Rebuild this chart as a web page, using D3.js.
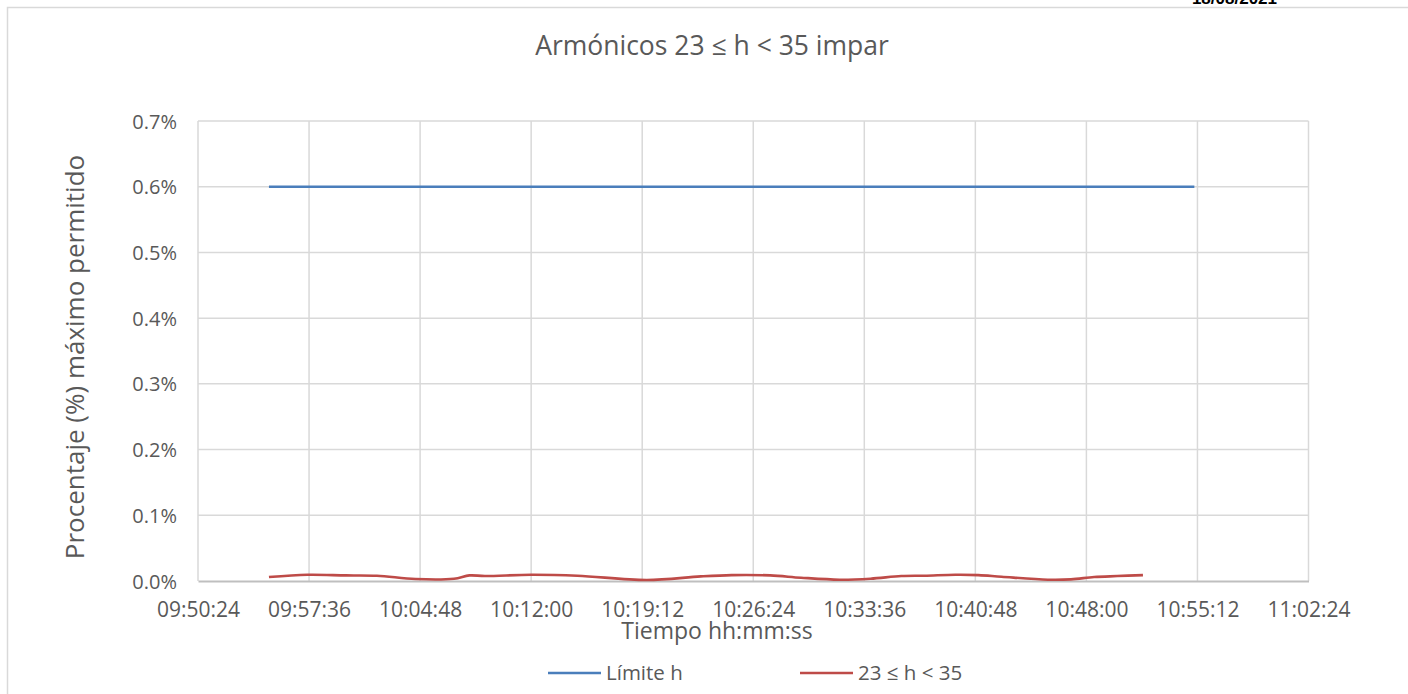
<!DOCTYPE html>
<html>
<head>
<meta charset="utf-8">
<script src="https://cdn.jsdelivr.net/npm/d3@7"></script>
<style>
  html, body { margin: 0; padding: 0; background: #fff; }
  svg { display: block; }
  text { font-family: "Open Sans", "Noto Sans", sans-serif; fill: #595959; }
</style>
</head>
<body>
<svg id="chart" width="1408" height="694"></svg>
<script>
// Series data (time of day, percentage)
const limitTimes = ["09:55:00", "10:55:00"];
const limitValues = [0.6, 0.6];

const harmTimes = [
  "09:55:00", "09:57:30", "10:00:00", "10:02:00", "10:04:30", "10:07:00",
  "10:08:00", "10:09:00", "10:12:00", "10:15:00", "10:19:30", "10:23:00",
  "10:25:00", "10:27:30", "10:29:30", "10:32:00", "10:34:00", "10:36:00",
  "10:37:30", "10:39:30", "10:41:00", "10:42:30", "10:45:30", "10:47:00",
  "10:48:30", "10:50:00", "10:51:40"
];
const harmValues = [
  0.0060, 0.0095, 0.0085, 0.0080, 0.0030, 0.0035,
  0.0085, 0.0075, 0.0095, 0.0080, 0.0015, 0.0070,
  0.0090, 0.0085, 0.0050, 0.0020, 0.0035, 0.0075,
  0.0080, 0.0095, 0.0090, 0.0065, 0.0020, 0.0025,
  0.0060, 0.0075, 0.0090
];

const xTickLabels = [
  "09:50:24", "09:57:36", "10:04:48", "10:12:00", "10:19:12", "10:26:24",
  "10:33:36", "10:40:48", "10:48:00", "10:55:12", "11:02:24"
];
const yTickValues = [0, 0.1, 0.2, 0.3, 0.4, 0.5, 0.6, 0.7];

const seriesNames = ["Límite h", "23 ≤ h < 35"];
const seriesColors = ["#4a7ebb", "#be4b48"];

const titleText = "Armónicos 23 ≤ h < 35 impar";
const xTitleText = "Tiempo hh:mm:ss";
const yTitleText = "Procentaje (%) máximo permitido";
const dateText = "18/08/2021";

// ---- helpers
const parseT = d3.timeParse("%Y-%m-%d %H:%M:%S");
const toDate = s => parseT("2021-08-18 " + s);

const svg = d3.select("#chart");

// outer chart frame
svg.append("rect")
  .attr("x", 7.5).attr("y", 7.5)
  .attr("width", 1420).attr("height", 720)
  .attr("fill", "none").attr("stroke", "#d9d9d9").attr("stroke-width", 1.5);

// date stamp at the top edge
svg.append("text")
  .attr("x", 1277).attr("y", 4)
  .attr("text-anchor", "end")
  .style("font-family", "'Liberation Sans', Arial, sans-serif")
  .style("font-weight", "bold")
  .style("font-size", "17px")
  .style("fill", "#000")
  .text(dateText);

const plot = { left: 198, right: 1308.5, top: 121, bottom: 581 };

const x = d3.scaleTime()
  .domain([toDate(xTickLabels[0]), toDate(xTickLabels[xTickLabels.length - 1])])
  .range([plot.left, plot.right]);

const y = d3.scaleLinear()
  .domain([0, 0.7])
  .range([plot.bottom, plot.top]);

// horizontal gridlines
svg.append("g")
  .selectAll("line")
  .data(yTickValues.filter(v => v > 0))
  .join("line")
  .attr("x1", plot.left).attr("x2", plot.right)
  .attr("y1", d => y(d)).attr("y2", d => y(d))
  .attr("stroke", "#d9d9d9").attr("stroke-width", 1.5);

// vertical gridlines
svg.append("g")
  .selectAll("line")
  .data(xTickLabels.map(toDate))
  .join("line")
  .attr("x1", d => x(d)).attr("x2", d => x(d))
  .attr("y1", plot.top).attr("y2", plot.bottom)
  .attr("stroke", "#d9d9d9").attr("stroke-width", 1.5);

// x axis
const xAxis = d3.axisBottom(x)
  .tickValues(xTickLabels.map(toDate))
  .tickFormat(d3.timeFormat("%H:%M:%S"))
  .tickSize(0)
  .tickPadding(0);
const gx = svg.append("g")
  .attr("transform", `translate(0,${plot.bottom})`)
  .call(xAxis);
gx.select(".domain").attr("stroke", "#bfbfbf").attr("stroke-width", 2);
gx.selectAll("text")
  .attr("y", 36).attr("dy", null)
  .style("font-size", "21px")
  .style("fill", "#595959")
  .style("font-family", "'Open Sans', sans-serif");

// y axis
const yAxis = d3.axisLeft(y)
  .tickValues(yTickValues)
  .tickFormat(d => d.toFixed(1) + "%")
  .tickSize(0)
  .tickPadding(0);
const gy = svg.append("g")
  .attr("transform", `translate(${plot.left},0)`)
  .call(yAxis);
gy.select(".domain").remove();
gy.selectAll("text")
  .attr("x", -21).attr("dy", "0.35em")
  .style("font-size", "20px")
  .style("fill", "#595959")
  .style("font-family", "'Open Sans', sans-serif");

// series lines
const line = d3.line()
  .x(d => x(d.t))
  .y(d => y(d.v))
  .curve(d3.curveCatmullRom.alpha(0.5));

const limitData = limitTimes.map((t, i) => ({ t: toDate(t), v: limitValues[i] }));
const harmData = harmTimes.map((t, i) => ({ t: toDate(t), v: harmValues[i] }));

svg.append("path")
  .datum(limitData)
  .attr("d", line)
  .attr("fill", "none")
  .attr("stroke", seriesColors[0])
  .attr("stroke-width", 2.6);

svg.append("path")
  .datum(harmData)
  .attr("d", line)
  .attr("fill", "none")
  .attr("stroke", seriesColors[1])
  .attr("stroke-width", 2.6);

// titles
svg.append("text")
  .attr("x", 712).attr("y", 55)
  .attr("text-anchor", "middle")
  .style("font-size", "26.5px")
  .text(titleText);

svg.append("text")
  .attr("x", 717).attr("y", 639)
  .attr("text-anchor", "middle")
  .style("font-size", "23px")
  .text(xTitleText);

svg.append("text")
  .attr("transform", "translate(75,357) rotate(-90)")
  .attr("text-anchor", "middle")
  .attr("dy", "0.35em")
  .style("font-size", "26px")
  .text(yTitleText);

// legend
const legendItems = [
  { x0: 548, name: seriesNames[0], color: seriesColors[0] },
  { x0: 800, name: seriesNames[1], color: seriesColors[1] }
];
const lg = svg.append("g").selectAll("g")
  .data(legendItems)
  .join("g")
  .attr("transform", d => `translate(${d.x0},673)`);
lg.append("line")
  .attr("x1", 0).attr("x2", 53)
  .attr("stroke", d => d.color).attr("stroke-width", 2.6);
lg.append("text")
  .attr("x", 58).attr("dy", "0.35em")
  .style("font-size", "20.5px")
  .text(d => d.name);
</script>
</body>
</html>
